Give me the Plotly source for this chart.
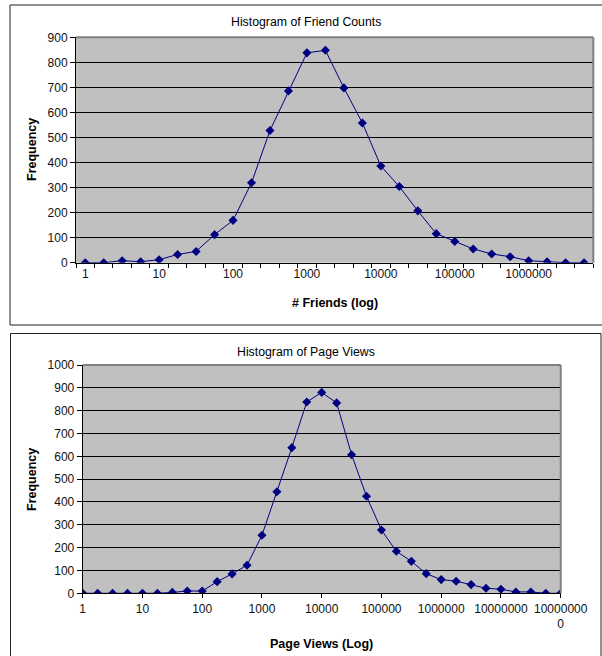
import plotly.graph_objects as go

W, H = 602, 656

# ---- Data ----
friend_tick_labels = ["1", "10", "100", "1000", "10000", "100000", "1000000"]
friend_freq = [0, 0, 8, 4, 12, 33, 45, 112, 169, 319, 528, 686, 838, 848,
               698, 558, 386, 304, 207, 116, 85, 55, 35, 24, 8, 4, 0, 0]

page_tick_labels = ["1", "10", "100", "1000", "10000", "100000", "1000000",
                    "10000000", "10000000<br>0"]
page_freq = [0, 0, 0, 0, 0, 0, 4, 10, 10, 51, 85, 123, 254, 445, 638, 838,
             880, 834, 607, 425, 277, 184, 140, 86, 60, 53, 38, 22, 18, 6, 6, 0, 0]

FONT = "Liberation Sans, Arial, sans-serif"
NAVY = "#000080"


def px(x):
    return x / W


def py(y):
    return 1 - y / H


fig = go.Figure()

fig.add_trace(go.Scatter(
    x=list(range(len(friend_freq))), y=friend_freq, mode="lines+markers",
    line=dict(color=NAVY, width=1),
    marker=dict(symbol="diamond", size=7, color=NAVY),
    xaxis="x", yaxis="y", showlegend=False))

fig.add_trace(go.Scatter(
    x=list(range(len(page_freq))), y=page_freq, mode="lines+markers",
    line=dict(color=NAVY, width=1),
    marker=dict(symbol="diamond", size=7, color=NAVY),
    xaxis="x2", yaxis="y2", showlegend=False))

tickfont = dict(family=FONT, size=12, color="#111111")

n1 = len(friend_freq)
n2 = len(page_freq)

fig.update_layout(
    width=W, height=H,
    margin=dict(l=0, r=0, t=0, b=0, autoexpand=False),
    paper_bgcolor="white",
    plot_bgcolor="#C0C0C0",
    font=dict(family=FONT, size=12, color="black"),
    xaxis=dict(
        domain=[px(76), px(593.3)], anchor="y", automargin=False,
        range=[-0.5, n1 - 0.5],
        tickmode="array",
        tickvals=[4 * i for i in range(len(friend_tick_labels))],
        ticktext=friend_tick_labels,
        ticks="", showgrid=False, zeroline=False,
        showline=True, linecolor="black", linewidth=1,
        tickfont=tickfont,
        minor=dict(tickmode="array",
                   tickvals=[i - 0.5 for i in range(n1 + 1)],
                   ticks="outside", ticklen=4, tickcolor="black",
                   tickwidth=1, showgrid=False),
    ),
    yaxis=dict(
        domain=[py(262.7), py(37.3)], anchor="x", automargin=False,
        range=[0, 900], dtick=100, tick0=0,
        ticks="outside", ticklen=5, tickcolor="black",
        showgrid=True, gridcolor="black", gridwidth=1,
        zeroline=False, showline=True, linecolor="black", linewidth=1,
        tickfont=tickfont,
    ),
    xaxis2=dict(
        domain=[px(82.7), px(560.7)], anchor="y2", automargin=False,
        range=[0, n2 - 1],
        tickmode="array",
        tickvals=[4 * i for i in range(len(page_tick_labels))],
        ticktext=page_tick_labels,
        ticks="outside", ticklen=4, tickcolor="black",
        showgrid=False, zeroline=False,
        showline=True, linecolor="black", linewidth=1,
        tickfont=tickfont,
    ),
    yaxis2=dict(
        domain=[py(593.3), py(365)], anchor="x2", automargin=False,
        range=[0, 1000], dtick=100, tick0=0,
        ticks="outside", ticklen=5, tickcolor="black",
        showgrid=True, gridcolor="black", gridwidth=1,
        zeroline=False, showline=True, linecolor="black", linewidth=1,
        tickfont=tickfont,
    ),
)

shapes = []
# chart frames
shapes.append(dict(type="rect", xref="paper", yref="paper",
                   x0=px(10), x1=px(620), y0=py(325), y1=py(5),
                   line=dict(color="#222222", width=1), fillcolor="rgba(0,0,0,0)",
                   layer="below"))
shapes.append(dict(type="rect", xref="paper", yref="paper",
                   x0=px(10.5), x1=px(601), y0=py(680), y1=py(333.5),
                   line=dict(color="#222222", width=1), fillcolor="rgba(0,0,0,0)",
                   layer="below"))
# plot-area gray borders (top and right)
for xr, yr in (("x domain", "y domain"), ("x2 domain", "y2 domain")):
    shapes.append(dict(type="line", xref=xr, yref=yr, x0=0, x1=1, y0=1, y1=1,
                       line=dict(color="#808080", width=2)))
    shapes.append(dict(type="line", xref=xr, yref=yr, x0=1, x1=1, y0=0, y1=1,
                       line=dict(color="#808080", width=2)))
fig.update_layout(shapes=shapes)

annos = [
    dict(text="Histogram of Friend Counts", x=px(306), y=py(22),
         font=dict(size=12.3)),
    dict(text="Histogram of Page Views", x=px(306), y=py(352),
         font=dict(size=12.3)),
    dict(text="<b># Friends (log)</b>", x=px(334.6), y=py(303),
         font=dict(size=12.5)),
    dict(text="<b>Page Views (Log)</b>", x=px(321.5), y=py(644),
         font=dict(size=12.5)),
    dict(text="<b>Frequency</b>", x=px(32), y=py(150), textangle=-90,
         font=dict(size=12.5)),
    dict(text="<b>Frequency</b>", x=px(32), y=py(480), textangle=-90,
         font=dict(size=12.5)),
]
for a in annos:
    a.update(xref="paper", yref="paper", showarrow=False,
             xanchor="center", yanchor="middle")
fig.update_layout(annotations=annos)

fig.write_html("out.html")
